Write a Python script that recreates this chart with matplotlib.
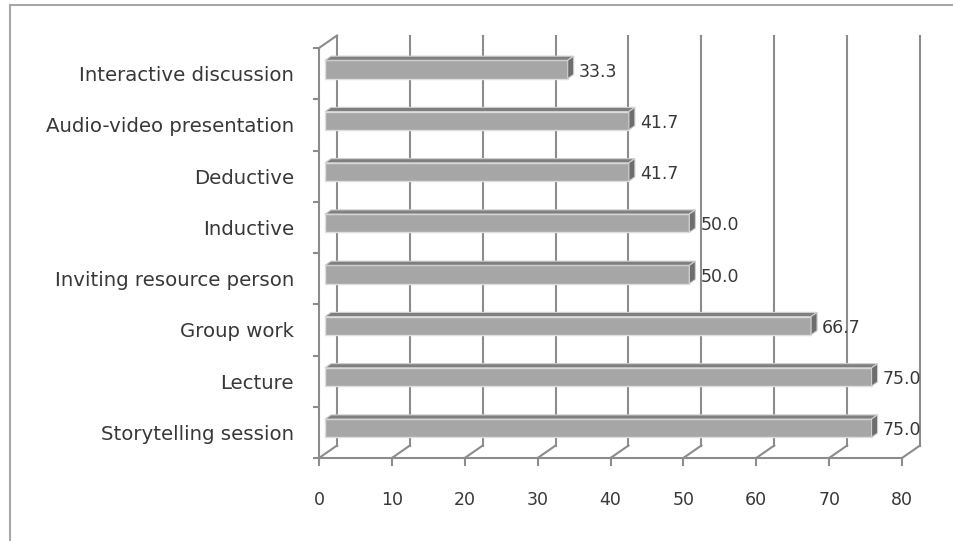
import matplotlib
matplotlib.use("Agg")
import matplotlib.pyplot as plt
from matplotlib.patches import Polygon, Rectangle

methods = ["Storytelling session", "Lecture", "Group work",
           "Inviting resource person", "Inductive", "Deductive",
           "Audio-video presentation", "Interactive discussion"]
percent = [75.0, 75.0, 66.7, 50.0, 50.0, 41.7, 41.7, 33.3]
x_ticks = [0, 10, 20, 30, 40, 50, 60, 70, 80]

W, H = 954, 541
GRID = "#8c8c8c"
TEXT = "#383838"
FONT = "DejaVu Sans"

fig = plt.figure(figsize=(W / 100, H / 100), dpi=100)
# frame round the chart area, cut by the image edges on the right and bottom
fig.patches.append(Rectangle((10 / W, -0.1), 1.2, 1.1 - 5 / H, transform=fig.transFigure,
                             fill=False, edgecolor="#a6a6a6", linewidth=1.5))

ax = fig.add_axes([319 / W, (H - 458) / H, 583 / W, 410 / H])
ax.set_xlim(x_ticks[0], x_ticks[-1])
ax.set_ylim(-0.5, len(methods) - 0.5)
ax.axis("off")

# pixel sizes of the fake 3d depth turned into data units
p0 = ax.transData.transform((0, 0))
p1 = ax.transData.transform((1, 1))
px_x = p1[0] - p0[0]
px_y = p1[1] - p0[1]
ddx = 18 / px_x
ddy = 12.5 / px_y
y0, y1 = -0.5, len(methods) - 0.5
lw = 1.5

# back wall grid and floor lines
for v in x_ticks:
    ax.plot([v + ddx, v + ddx], [y0 + ddy, y1 + ddy], color=GRID, lw=lw, zorder=1, clip_on=False)
    ax.plot([v, v + ddx], [y0, y0 + ddy], color=GRID, lw=lw, zorder=1, clip_on=False)
    ax.plot([v, v], [y0, y0 - 7 / px_y], color=GRID, lw=lw, zorder=1, clip_on=False)
    ax.annotate(str(v), xy=(v, y0), xytext=(0, -30), textcoords="offset points",
                ha="center", va="center", fontsize=12.5, color=TEXT, family=FONT)

# front axes lines
ax.plot([x_ticks[0], x_ticks[-1]], [y0, y0], color=GRID, lw=lw, zorder=1, clip_on=False)
ax.plot([0, 0], [y0, y1], color=GRID, lw=lw, zorder=1, clip_on=False)
ax.plot([0, ddx], [y1, y1 + ddy], color=GRID, lw=lw, zorder=1, clip_on=False)
for k in range(len(methods) + 1):
    ax.plot([0, -5 / px_x], [k - 0.5, k - 0.5], color=GRID, lw=lw, zorder=1, clip_on=False)

# bars as boxes sitting in the middle third of the depth
h = 0.357
f1, f2 = 1 / 3, 2 / 3
for i, (name, v) in enumerate(zip(methods, percent)):
    bx, by = f1 * ddx, i - h / 2 + f1 * ddy
    ax.add_patch(Rectangle((bx, by), v, h, facecolor="#a6a6a6", edgecolor="#dedede",
                           lw=1, zorder=3, clip_on=False))
    top = [(f1 * ddx, i + h / 2 + f1 * ddy), (v + f1 * ddx, i + h / 2 + f1 * ddy),
           (v + f2 * ddx, i + h / 2 + f2 * ddy), (f2 * ddx, i + h / 2 + f2 * ddy)]
    ax.add_patch(Polygon(top, closed=True, facecolor="#7f7f7f", edgecolor="#d0d0d0",
                         lw=0.8, zorder=3, clip_on=False))
    side = [(v + f1 * ddx, i - h / 2 + f1 * ddy), (v + f1 * ddx, i + h / 2 + f1 * ddy),
            (v + f2 * ddx, i + h / 2 + f2 * ddy), (v + f2 * ddx, i - h / 2 + f2 * ddy)]
    ax.add_patch(Polygon(side, closed=True, facecolor="#6e6e6e", edgecolor="#d0d0d0",
                         lw=0.8, zorder=3, clip_on=False))
    ax.annotate("%.1f" % v, xy=(v + f2 * ddx, i + f1 * ddy), xytext=(3.5, -1.5),
                textcoords="offset points", ha="left", va="center",
                fontsize=12.5, color=TEXT, family=FONT, zorder=4)
    ax.annotate(name, xy=(0, i), xytext=(-18, -1.5), textcoords="offset points",
                ha="right", va="center", fontsize=14.2, color=TEXT, family=FONT)

fig.savefig("out.png", dpi=100)
